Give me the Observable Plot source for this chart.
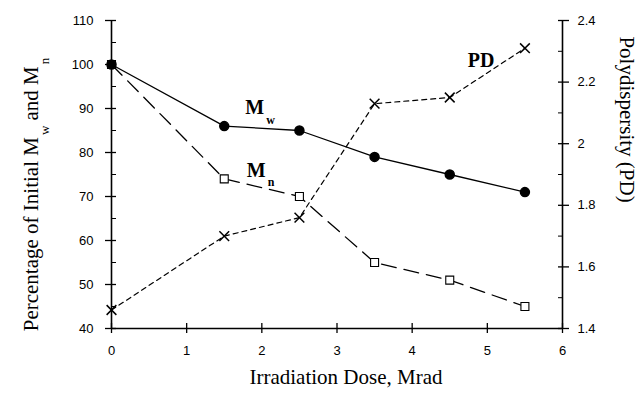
<!DOCTYPE html>
<html><head><meta charset="utf-8">
<script src="https://cdn.jsdelivr.net/npm/d3@7"></script>
<script src="https://cdn.jsdelivr.net/npm/@observablehq/plot@0.6"></script>
<style>body{margin:0;background:#fff} svg{display:block}</style>
</head><body><div id="chart"></div>
<script>
// ---- data ----
const doses  = [0, 1.5, 2.5, 3.5, 4.5, 5.5];
const mwPct  = [100, 86, 85, 79, 75, 71];
const mnPct  = [100, 74, 70, 55, 51, 45];
const polyD  = [1.46, 1.70, 1.76, 2.13, 2.15, 2.31];
const xTicks = [0, 1, 2, 3, 4, 5, 6];
const yTicks = [40, 50, 60, 70, 80, 90, 100, 110];
const yMinor = [45, 55, 65, 75, 85, 95, 105];
const pdTicks = [1.4, 1.6, 1.8, 2.0, 2.2, 2.4];
const pdMinor = [1.5, 1.7, 1.9, 2.1, 2.3];
const xTitle = "Irradiation Dose, Mrad";
const yTitle = "Percentage of Initial M_w and M_n";
const y2Title = "Polydispersity (PD)";

// map PD (right axis, 1.4–2.4) onto the left scale (40–110)
const toLeft = v => 40 + (v - 1.4) * 70;
const fromLeft = v => Math.round((1.4 + (v - 40) / 70) * 10) / 10;

const mw = doses.map((x, i) => ({x, y: mwPct[i]}));
const mn = doses.map((x, i) => ({x, y: mnPct[i]}));
const pd = doses.map((x, i) => ({x, y: toLeft(polyD[i])}));

const serif = "Liberation Serif, Times New Roman, serif";
const sans = "Liberation Sans, Arial, sans-serif";
const titleStyle = {fontFamily: serif, fontSize: 21, textAnchor: "middle", text: d => d};

const chart = Plot.plot({
  width: 640, height: 402,
  marginLeft: 111, marginRight: 78, marginTop: 20, marginBottom: 74,
  style: {fontFamily: sans, fontSize: "13px", background: "#fff", color: "#000"},
  x: {domain: [0, 6]},
  y: {domain: [40, 110]},
  marks: [
    // axis lines
    Plot.ruleX([0], {strokeWidth: 1.6}),
    Plot.ruleX([6], {strokeWidth: 1.6}),
    Plot.ruleY([40], {strokeWidth: 1.6}),
    // bottom axis
    Plot.axisX(xTicks, {anchor: "bottom", tickSize: 10, dy: -5, fill: "none", label: null, strokeWidth: 1.3}),
    Plot.axisX(xTicks, {anchor: "bottom", tickSize: 0, tickPadding: 17, stroke: "none", label: null, fontSize: 13}),
    // left axis
    Plot.axisY(yTicks, {anchor: "left", tickSize: 11, dx: 5, fill: "none", label: null, strokeWidth: 1.3}),
    Plot.axisY(yMinor, {anchor: "left", tickSize: 5, dx: 5, fill: "none", label: null}),
    Plot.axisY(yTicks, {anchor: "left", tickSize: 0, tickPadding: 18, stroke: "none", label: null, fontSize: 13}),
    // right axis (PD)
    Plot.axisY(pdTicks.map(toLeft), {anchor: "right", tickSize: 11, dx: -5, fill: "none", label: null, strokeWidth: 1.3}),
    Plot.axisY(pdMinor.map(toLeft), {anchor: "right", tickSize: 5, dx: -5, fill: "none", label: null}),
    Plot.axisY(pdTicks.map(toLeft), {anchor: "right", tickSize: 0, tickPadding: 15, stroke: "none", label: null, fontSize: 13, tickFormat: v => String(fromLeft(v))}),
    // series lines
    Plot.line(pd, {x: "x", y: "y", stroke: "#000", strokeWidth: 1.2, strokeDasharray: "5,4"}),
    Plot.line(mn, {x: "x", y: "y", stroke: "#000", strokeWidth: 1.3, strokeDasharray: "15,8"}),
    Plot.line(mw, {x: "x", y: "y", stroke: "#000", strokeWidth: 1.3}),
    // markers
    Plot.dot(pd, {x: "x", y: "y", symbol: "times", r: 4.5, stroke: "#000", strokeWidth: 1.5}),
    Plot.dot(mn, {x: "x", y: "y", symbol: "square", r: 4.5, fill: "#fff", stroke: "#000", strokeWidth: 1.1}),
    Plot.dot(mw, {x: "x", y: "y", symbol: "circle", r: 4.5, fill: "#000", stroke: "#000"}),
    // series labels
    Plot.text(["M_w"], {x: 1.78, y: 90.3, text: d => d, textAnchor: "start", fontFamily: serif, fontSize: 20, fontWeight: "bold"}),
    Plot.text(["M_n"], {x: 1.80, y: 76, text: d => d, textAnchor: "start", fontFamily: serif, fontSize: 20, fontWeight: "bold"}),
    Plot.text(["PD"], {x: 4.74, y: 101, text: d => d, textAnchor: "start", fontFamily: serif, fontSize: 20, fontWeight: "bold"}),
    // axis titles
    Plot.text([xTitle], {...titleStyle, frameAnchor: "bottom", dx: 9, dy: 55, letterSpacing: "2.2px"}),
    Plot.text([yTitle], {...titleStyle, frameAnchor: "left", rotate: -90, dx: -80, dy: 20, letterSpacing: "1.5px"}),
    Plot.text([y2Title], {...titleStyle, frameAnchor: "right", rotate: 90, dx: 64, dy: -55, letterSpacing: "2.2px"})
  ]
});
document.getElementById("chart").appendChild(chart);

// turn "M_w" into M with a subscript w
d3.select(chart).selectAll("text").each(function() {
  const t = this.textContent;
  if (!t.includes("_")) return;
  const fs = parseFloat(getComputedStyle(this).fontSize) || 19;
  const shift = Math.round(fs * 0.5);
  const sel = d3.select(this);
  sel.text(null);
  const parts = t.split(/_(\w)/);
  let down = false;
  parts.forEach((p, i) => {
    if (!p) return;
    const ts = sel.append("tspan").text(p);
    if (i % 2 === 1) {
      ts.attr("font-size", Math.round(fs * 0.6) + "px").attr("dy", shift).attr("dx", 2);
      down = true;
    } else if (down) {
      ts.attr("dy", -shift);
      down = false;
    }
  });
});
</script>
</body></html>
